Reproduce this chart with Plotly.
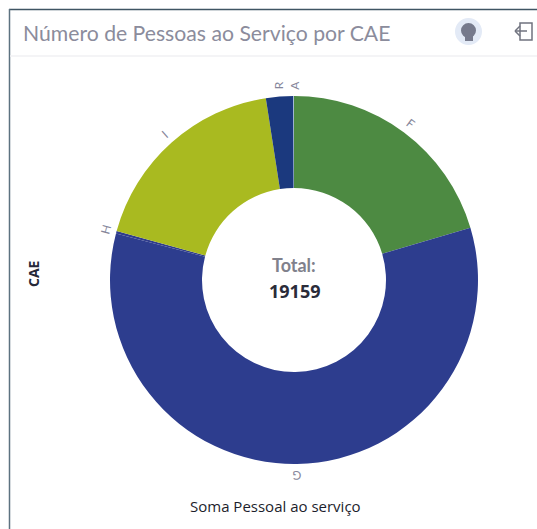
import math
import plotly.graph_objects as go

categories = ["F", "G", "H", "I", "R", "A"]
values = [3910, 11240, 40, 3500, 460, 9]
colors = ["#4d8a42", "#2d3d8e", "#2f3c8c", "#a9ba20", "#1b397e", "#b5cfe6"]

W, H = 537, 529
CX, CY, R = 294, 280, 184


def px(x):
    return x / W


def py(y):
    return 1 - y / H


total = sum(values)
fig = go.Figure(
    go.Pie(
        labels=categories,
        values=values,
        hole=0.5,
        sort=False,
        direction="clockwise",
        rotation=0,
        textinfo="none",
        hoverinfo="label+value",
        showlegend=False,
        marker=dict(colors=colors, line=dict(width=0)),
        domain=dict(x=[px(CX - R), px(CX + R)], y=[py(CY + R), py(CY - R)]),
    )
)

annotations = []
cum = 0
for cat, val in zip(categories, values):
    theta = (cum + val / 2) / total * 360
    cum += val
    r = R + 11
    lx = CX + r * math.sin(math.radians(theta))
    ly = CY - r * math.cos(math.radians(theta))
    angle = -90 if cat in ("R", "A") else theta
    annotations.append(
        dict(
            x=px(lx), y=py(ly), xref="paper", yref="paper", text=cat, showarrow=False,
            textangle=angle, xanchor="center", yanchor="middle",
            font=dict(family="Lato", size=12, color="#85869a"),
        )
    )


def label(text, x, y, size, color, family="Lato", angle=0, anchor="center"):
    annotations.append(
        dict(
            x=px(x), y=py(y), xref="paper", yref="paper", text=text, showarrow=False,
            textangle=angle, xanchor=anchor, yanchor="middle",
            font=dict(family=family, size=size, color=color),
        )
    )


label("Número de Pessoas ao Serviço por CAE", 21, 33, 21.2, "#8b8c9c", anchor="left")
label("<b>Total:</b>", CX, 265, 18, "#80818c")
label("<b>19159</b>", CX, 291, 18, "#2a2c3a", family="Open Sans")
label("<b>CAE</b>", 33, 274, 14, "#262838", family="Open Sans", angle=-90)
label("Soma Pessoal ao serviço", 275, 506, 15, "#1c1e2c", family="Open Sans")

shapes = [
    dict(type="line", xref="paper", yref="paper", x0=px(9), x1=px(537), y0=py(9.5), y1=py(9.5),
         line=dict(color="#3f5563", width=1.5)),
    dict(type="line", xref="paper", yref="paper", x0=px(9.5), x1=px(9.5), y0=py(9), y1=py(529),
         line=dict(color="#5d7280", width=1.5)),
    dict(type="line", xref="paper", yref="paper", x0=px(10), x1=px(537), y0=py(56), y1=py(56),
         line=dict(color="#f0f1f3", width=1.5)),
    dict(type="circle", xref="paper", yref="paper", x0=px(455), x1=px(482), y0=py(45), y1=py(18),
         fillcolor="#e3eaf6", line=dict(width=0)),
    dict(type="circle", xref="paper", yref="paper", x0=px(461), x1=px(476), y0=py(38), y1=py(23),
         fillcolor="#767a8c", line=dict(width=0)),
    dict(type="rect", xref="paper", yref="paper", x0=px(465), x1=px(473), y0=py(41), y1=py(35),
         fillcolor="#767a8c", line=dict(width=0)),
    dict(type="rect", xref="paper", yref="paper", x0=px(520), x1=px(532), y0=py(40), y1=py(23),
         line=dict(color="#70737f", width=1.5)),
    dict(type="line", xref="paper", yref="paper", x0=px(515), x1=px(527), y0=py(31), y1=py(31),
         line=dict(color="#70737f", width=1.5)),
    dict(type="line", xref="paper", yref="paper", x0=px(515), x1=px(520), y0=py(31), y1=py(26),
         line=dict(color="#70737f", width=1.5)),
    dict(type="line", xref="paper", yref="paper", x0=px(515), x1=px(520), y0=py(31), y1=py(36),
         line=dict(color="#70737f", width=1.5)),
]

fig.update_layout(
    width=W, height=H, autosize=False,
    margin=dict(l=0, r=0, t=0, b=0),
    paper_bgcolor="#ffffff", plot_bgcolor="#ffffff",
    annotations=annotations, shapes=shapes,
)
fig.write_html(
    "out.html",
    config=dict(displayModeBar=False),
    default_width=f"{W}px",
    default_height=f"{H}px",
    post_script="document.body.style.margin='0';document.documentElement.style.overflow='hidden';",
)
